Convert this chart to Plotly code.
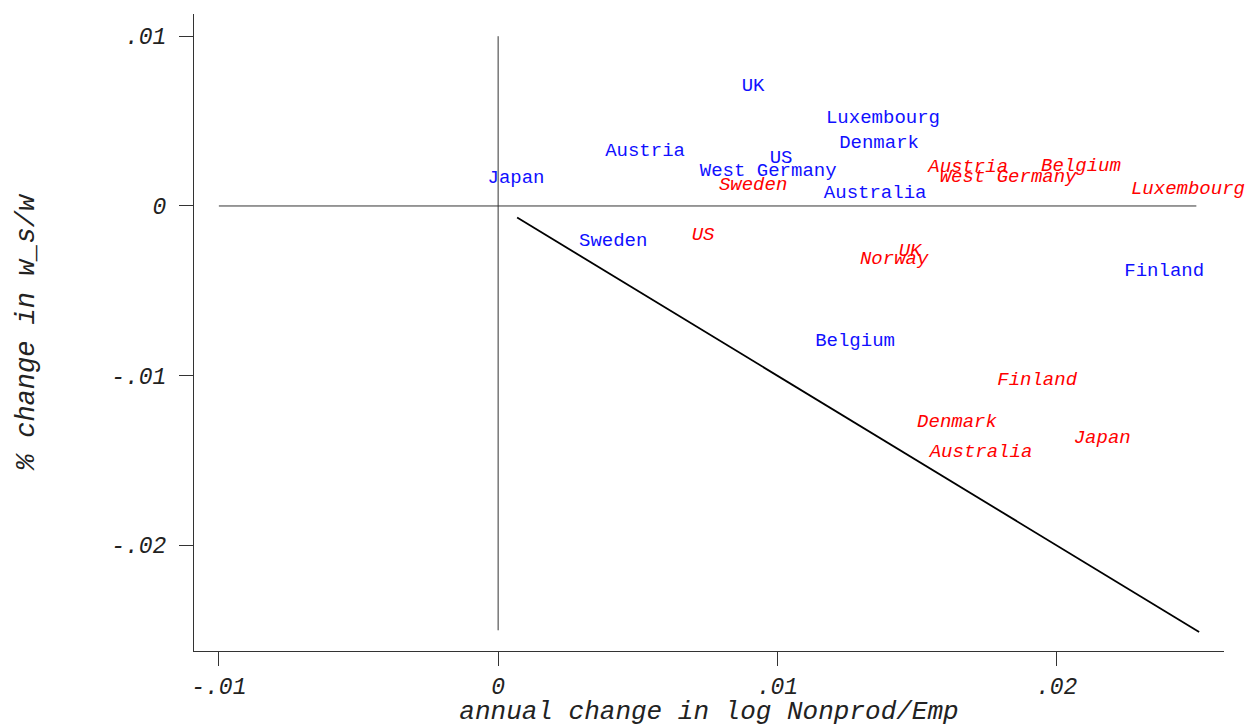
import plotly.graph_objects as go

# Nonproduction-employment growth vs. change in wage-bill share, by country
blue_countries = ["UK", "Luxembourg", "Denmark", "Austria", "US", "West Germany",
                  "Japan", "Australia", "Sweden", "Finland", "Belgium"]
blue_x = [0.00913, 0.01378, 0.01364, 0.00526, 0.01013, 0.00967,
          0.00064, 0.01350, 0.00412, 0.02385, 0.01278]
blue_y = [0.00707, 0.00519, 0.00371, 0.00324, 0.00283, 0.00206,
          0.00165, 0.00077, -0.00206, -0.00383, -0.00796]

red_countries = ["Sweden", "Austria", "West Germany", "Belgium", "Luxembourg", "US",
                 "UK", "Norway", "Finland", "Denmark", "Australia", "Japan"]
red_x = [0.00913, 0.01683, 0.01826, 0.02087, 0.02470, 0.00734,
         0.01475, 0.01418, 0.01930, 0.01643, 0.01729, 0.02163]
red_y = [0.00124, 0.00230, 0.00171, 0.00236, 0.00100, -0.00171,
         -0.00265, -0.00312, -0.01025, -0.01273, -0.01450, -0.01367]

# reference lines
vline_x = [0, 0]
vline_y = [0.010, -0.025]
hline_x = [-0.010, 0.025]
hline_y = [0, 0]
diag_x = [0.00068, 0.0251]
diag_y = [-x for x in diag_x]

xtick_vals = [-0.01, 0, 0.01, 0.02]
xtick_text = ["-.01", "0", ".01", ".02"]
ytick_vals = [0.01, 0, -0.01, -0.02]
ytick_text = [".01", "0", "-.01", "-.02"]

MONO = "Liberation Mono"

fig = go.Figure()

fig.add_trace(go.Scatter(x=vline_x, y=vline_y, mode="lines",
                         line=dict(color="#333333", width=1), hoverinfo="skip"))
fig.add_trace(go.Scatter(x=hline_x, y=hline_y, mode="lines",
                         line=dict(color="#333333", width=1), hoverinfo="skip"))
fig.add_trace(go.Scatter(x=diag_x, y=diag_y, mode="lines",
                         line=dict(color="black", width=1.8), hoverinfo="skip"))

fig.add_trace(go.Scatter(x=blue_x, y=blue_y, mode="text", text=blue_countries,
                         textposition="middle center", cliponaxis=False,
                         textfont=dict(family=MONO, size=19, color="#1010ff")))
fig.add_trace(go.Scatter(x=red_x, y=red_y, mode="text", text=red_countries,
                         textposition="middle center", cliponaxis=False,
                         textfont=dict(family=MONO, size=19, color="#ff0000",
                                       style="italic")))

axis_font = dict(family=MONO, size=23, color="#222222", style="italic")

fig.update_layout(
    width=1249, height=727,
    margin=dict(l=194, r=25, t=14, b=76),
    plot_bgcolor="white", paper_bgcolor="white",
    showlegend=False,
    xaxis=dict(range=[-0.01089, 0.02599], showgrid=False, zeroline=False,
               automargin=False,
               showline=True, linecolor="#333333", linewidth=1,
               ticks="outside", ticklen=14, tickcolor="#333333",
               tickvals=xtick_vals, ticktext=xtick_text, tickfont=axis_font,
               title=dict(text="annual change in log Nonprod/Emp",
                          font=dict(family=MONO, size=26, color="#222222",
                                    style="italic"), standoff=2)),
    yaxis=dict(range=[-0.02622, 0.01131], showgrid=False, zeroline=False,
               automargin=False,
               showline=True, linecolor="#333333", linewidth=1,
               ticks="outside", ticklen=14, tickcolor="#333333",
               tickvals=ytick_vals, ticktext=ytick_text, tickfont=axis_font,
               ticklabelstandoff=8,
               title=dict(text="% change in w_s/w",
                          font=dict(family=MONO, size=27, color="#222222",
                                    style="italic"), standoff=68)),
)

fig.write_html("out.html")
